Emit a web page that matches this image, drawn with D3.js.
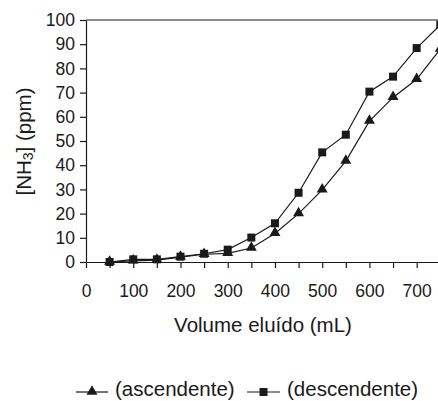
<!DOCTYPE html>
<html>
<head>
<meta charset="utf-8">
<script src="https://cdn.jsdelivr.net/npm/d3@7"></script>
<style>
  body { margin: 0; background: #fff; }
  svg { display: block; font-family: "Liberation Sans", Arial, sans-serif; }
  .axis path, .axis line { stroke: #1a1a1a; stroke-width: 1.2; }
  .axis text { fill: #1a1a1a; font-size: 17.5px; font-family: "Liberation Sans", Arial, sans-serif; }
</style>
</head>
<body>
<svg width="438" height="401"></svg>
<script>
var volumes = [50, 100, 150, 200, 250, 300, 350, 400, 450, 500, 550, 600, 650, 700, 750];
var ascendente = [0, 0.5, 0.8, 2, 3.2, 3.6, 5.8, 11.8, 20, 29.8, 41.7, 58.2, 68, 75.5, 88];
var descendente = [0, 1.1, 1.1, 2.2, 3.4, 5.1, 10.1, 16, 28.6, 45.3, 52.6, 70.4, 76.6, 88.4, 98];
var yTicks = [0, 10, 20, 30, 40, 50, 60, 70, 80, 90, 100];
var xTicks = d3.range(0, 801, 50);
var xLabels = [0, 100, 200, 300, 400, 500, 600, 700];
var legendLabels = ["(ascendente)", "(descendente)"];

var ink = "#1a1a1a";

var svg = d3.select("svg"),
    margin = {top: 20, left: 86},
    plotBottom = 262;

var x = d3.scaleLinear()
    .domain([0, 800])
    .range([margin.left, margin.left + 16 * 23.62]);

var y = d3.scaleLinear()
    .domain([0, 100])
    .range([plotBottom, margin.top]);

// top frame line
svg.append("line")
    .attr("x1", x(0)).attr("x2", x(800))
    .attr("y1", y(100)).attr("y2", y(100))
    .attr("stroke", ink).attr("stroke-width", 1.2);

svg.append("g")
    .attr("class", "axis")
    .attr("transform", "translate(0," + plotBottom + ")")
    .call(d3.axisBottom(x)
        .tickValues(xTicks)
        .tickSize(6)
        .tickSizeOuter(0)
        .tickPadding(17)
        .tickFormat(function(d) { return xLabels.indexOf(d) >= 0 ? d : ""; }));

svg.append("g")
    .attr("class", "axis")
    .attr("transform", "translate(" + margin.left + ",0)")
    .call(d3.axisLeft(y)
        .tickValues(yTicks)
        .tickSize(6)
        .tickSizeOuter(0)
        .tickPadding(5));

svg.selectAll(".axis .domain").attr("stroke", ink);
svg.selectAll(".axis text").attr("font-size", "17.5px");

var line = d3.line()
    .x(function(d) { return x(d[0]); })
    .y(function(d) { return y(d[1]); });

function series(values) {
  return volumes.map(function(v, i) { return [v, values[i]]; });
}

var tri = d3.symbol().type(d3.symbolTriangle).size(52);
var sq = d3.symbol().type(d3.symbolSquare).size(64);

// ascendente: triangles
svg.append("path")
    .datum(series(ascendente))
    .attr("fill", "none")
    .attr("stroke", ink)
    .attr("stroke-width", 1.2)
    .attr("d", line);

svg.selectAll(".tri")
  .data(series(ascendente))
  .enter().append("path")
    .attr("class", "tri")
    .attr("transform", function(d) { return "translate(" + x(d[0]) + "," + (y(d[1]) - 0.5) + ")"; })
    .attr("d", tri)
    .attr("fill", ink);

// descendente: squares
svg.append("path")
    .datum(series(descendente))
    .attr("fill", "none")
    .attr("stroke", ink)
    .attr("stroke-width", 1.2)
    .attr("d", line);

svg.selectAll(".sq")
  .data(series(descendente))
  .enter().append("path")
    .attr("class", "sq")
    .attr("transform", function(d) { return "translate(" + x(d[0]) + "," + y(d[1]) + ")"; })
    .attr("d", sq)
    .attr("fill", ink);

// axis titles
svg.append("text")
    .attr("x", 263)
    .attr("y", 332)
    .attr("text-anchor", "middle")
    .attr("font-size", "20.5px")
    .attr("fill", ink)
    .text("Volume eluído (mL)");

var yTitle = svg.append("text")
    .attr("transform", "translate(31,141.5) rotate(-90)")
    .attr("text-anchor", "middle")
    .attr("font-size", "20.5px")
    .attr("fill", ink);
yTitle.append("tspan").text("[NH");
yTitle.append("tspan").attr("font-size", "14px").attr("dy", "2").text("3");
yTitle.append("tspan").attr("dy", "-2").text("] (ppm)");

// legend
var legend = [
  {x1: 76, x2: 108, tx: 115, sym: tri, dy: -0.5},
  {x1: 247, x2: 280, tx: 287, sym: sq, dy: 0}
];

var item = svg.selectAll(".legend")
  .data(legend)
  .enter().append("g")
    .attr("class", "legend");

item.append("line")
    .attr("x1", function(d) { return d.x1; })
    .attr("x2", function(d) { return d.x2; })
    .attr("y1", 392).attr("y2", 392)
    .attr("stroke", ink)
    .attr("stroke-width", 1.2);

item.append("path")
    .attr("transform", function(d) { return "translate(" + (d.x1 + d.x2) / 2 + "," + (392 + d.dy) + ")"; })
    .attr("d", function(d) { return d.sym(); })
    .attr("fill", ink);

item.append("text")
    .attr("x", function(d) { return d.tx; })
    .attr("y", 396)
    .attr("font-size", "20.5px")
    .attr("fill", ink)
    .text(function(d, i) { return legendLabels[i]; });
</script>
</body>
</html>
